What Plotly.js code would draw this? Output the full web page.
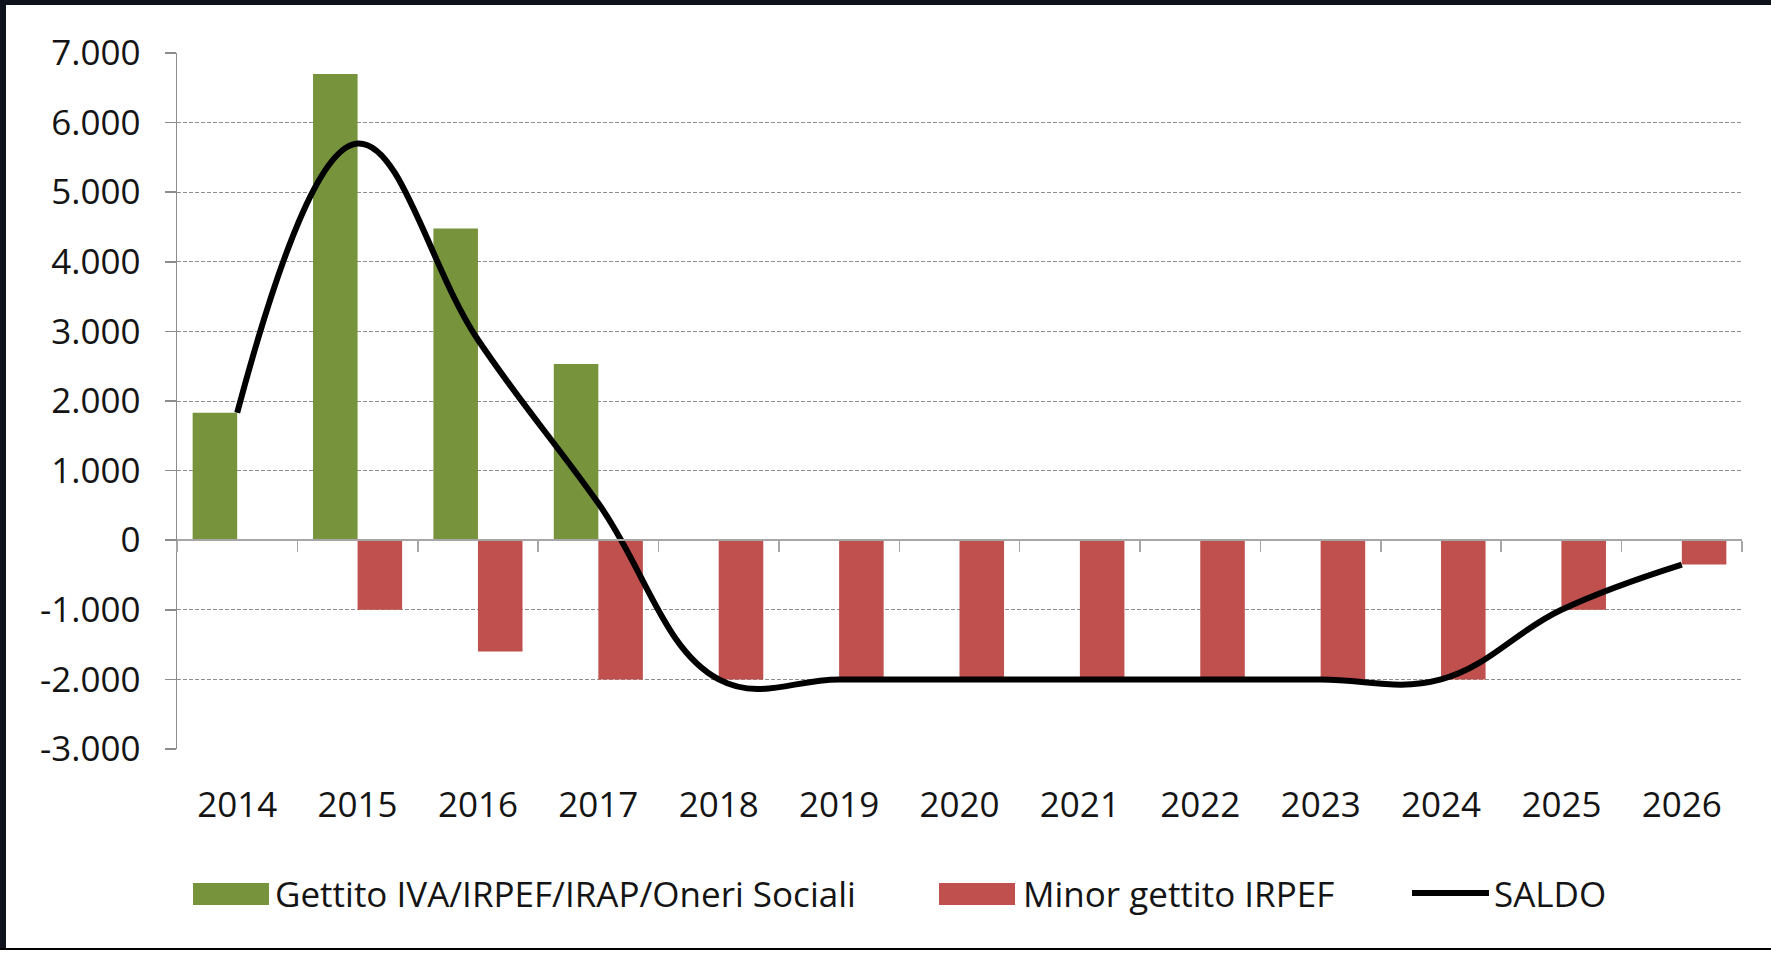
<!DOCTYPE html>
<html>
<head>
<meta charset="utf-8">
<script src="https://cdn.plot.ly/plotly-3.0.1.min.js"></script>
<style>
  html, body { margin: 0; padding: 0; background: #ffffff; }
  #chart { width: 1771px; height: 953px; }
</style>
</head>
<body>
<div id="chart"></div>
<script>
// ---- Data ----
const years = ['2014','2015','2016','2017','2018','2019','2020','2021','2022','2023','2024','2025','2026'];
const gettito = [1830, 6700, 4480, 2530, 0, 0, 0, 0, 0, 0, 0, 0, 0];
const minorGettito = [0, -1000, -1600, -2000, -2000, -2000, -2000, -2000, -2000, -2000, -2000, -1000, -350];
const saldo = [1830, 5700, 2880, 530, -2000, -2000, -2000, -2000, -2000, -2000, -2000, -1000, -350];
const seriesNames = ['Gettito IVA/IRPEF/IRAP/Oneri Sociali', 'Minor gettito IRPEF', 'SALDO'];
const yTickValues = [-3000, -2000, -1000, 0, 1000, 2000, 3000, 4000, 5000, 6000, 7000];
const yTickLabels = ['-3.000', '-2.000', '-1.000', '0', '1.000', '2.000', '3.000', '4.000', '5.000', '6.000', '7.000'];

// ---- Geometry helpers (pixel -> paper) ----
const W = 1771, H = 953;
const M = { l: 177, r: 29, t: 53, b: 204 };
const PW = W - M.l - M.r, PH = H - M.t - M.b;
const PX = x => (x - M.l) / PW;
const PY = y => (H - M.b - y) / PH;

const FONT = '"Open Sans", "Noto Sans", sans-serif';
const TXT = '#141414';
const GREEN = '#77933C', RED = '#C0504D', AXIS = '#8c8c8c', DARK = '#0e121b';

const traces = [
  { type: 'bar', name: seriesNames[0], x: years, y: gettito, marker: { color: GREEN }, xaxis: 'x', yaxis: 'y', hoverinfo: 'x+y' },
  { type: 'bar', name: seriesNames[1], x: years, y: minorGettito, marker: { color: RED }, xaxis: 'x', yaxis: 'y', hoverinfo: 'x+y' },
  { type: 'scatter', mode: 'lines', name: seriesNames[2], x: years, y: saldo,
    line: { color: '#000000', width: 6, shape: 'spline', smoothing: 1.15 }, xaxis: 'x2', yaxis: 'y' }
];

const legendY = PY(893.5);
const shapes = [
  // frame of the screenshot
  { type: 'rect', xref: 'paper', yref: 'paper', x0: PX(0), x1: PX(W), y0: PY(5), y1: PY(0), fillcolor: DARK, line: { width: 0 }, layer: 'above' },
  { type: 'rect', xref: 'paper', yref: 'paper', x0: PX(0), x1: PX(6), y0: PY(949), y1: PY(0), fillcolor: DARK, line: { width: 0 }, layer: 'above' },
  { type: 'rect', xref: 'paper', yref: 'paper', x0: PX(0), x1: PX(W), y0: PY(950), y1: PY(948), fillcolor: '#000000', line: { width: 0 }, layer: 'above' },
  // legend swatches
  { type: 'rect', xref: 'paper', yref: 'paper', x0: PX(193), x1: PX(269), y0: PY(905), y1: PY(883), fillcolor: GREEN, line: { width: 0 } },
  { type: 'rect', xref: 'paper', yref: 'paper', x0: PX(939), x1: PX(1015), y0: PY(905), y1: PY(883), fillcolor: RED, line: { width: 0 } },
  { type: 'line', xref: 'paper', yref: 'paper', x0: PX(1412), x1: PX(1489), y0: PY(893), y1: PY(893), line: { color: '#000000', width: 6 } }
];

const legendFont = { family: FONT, size: 35, color: TXT };
const annotations = [
  { xref: 'paper', yref: 'paper', x: PX(273), y: legendY, xanchor: 'left', yanchor: 'middle', showarrow: false, text: seriesNames[0], font: legendFont },
  { xref: 'paper', yref: 'paper', x: PX(1021), y: legendY, xanchor: 'left', yanchor: 'middle', showarrow: false, text: seriesNames[1], font: legendFont },
  { xref: 'paper', yref: 'paper', x: PX(1492), y: legendY, xanchor: 'left', yanchor: 'middle', showarrow: false, text: seriesNames[2], font: legendFont }
];

const layout = {
  width: W, height: H,
  margin: M,
  paper_bgcolor: '#ffffff', plot_bgcolor: '#ffffff',
  showlegend: false,
  barmode: 'group', bargap: 0.26, bargroupgap: 0,
  font: { family: FONT, color: TXT },
  xaxis: {
    type: 'category', categoryorder: 'array', categoryarray: years,
    range: [-0.5, 12.5], fixedrange: true,
    showline: false, showgrid: false, zeroline: false, ticks: '',
    tickfont: { family: FONT, size: 35, color: TXT },
    ticklabelstandoff: 32
  },
  xaxis2: {
    type: 'category', categoryorder: 'array', categoryarray: years,
    range: [-0.5, 12.5], overlaying: 'x', anchor: 'free', position: 0.3,
    showline: true, linecolor: '#a6a6a6', linewidth: 2,
    ticks: 'outside', tickson: 'boundaries', ticklen: 11, tickcolor: '#a6a6a6', tickwidth: 1.5,
    showticklabels: false, showgrid: false, zeroline: false
  },
  yaxis: {
    range: [-3000, 7000], fixedrange: true,
    tickmode: 'array', tickvals: yTickValues, ticktext: yTickLabels,
    showgrid: true, gridcolor: '#8f8f8f', gridwidth: 1, griddash: '4px,2px',
    zeroline: false,
    showline: true, linecolor: AXIS, linewidth: 1.5,
    ticks: 'outside', ticklen: 11, tickcolor: AXIS, tickwidth: 1.5,
    tickfont: { family: FONT, size: 35, color: TXT },
    ticklabelstandoff: 17
  },
  shapes: shapes,
  annotations: annotations
};

Plotly.newPlot('chart', traces, layout, { displayModeBar: false, staticPlot: true });
</script>
</body>
</html>
